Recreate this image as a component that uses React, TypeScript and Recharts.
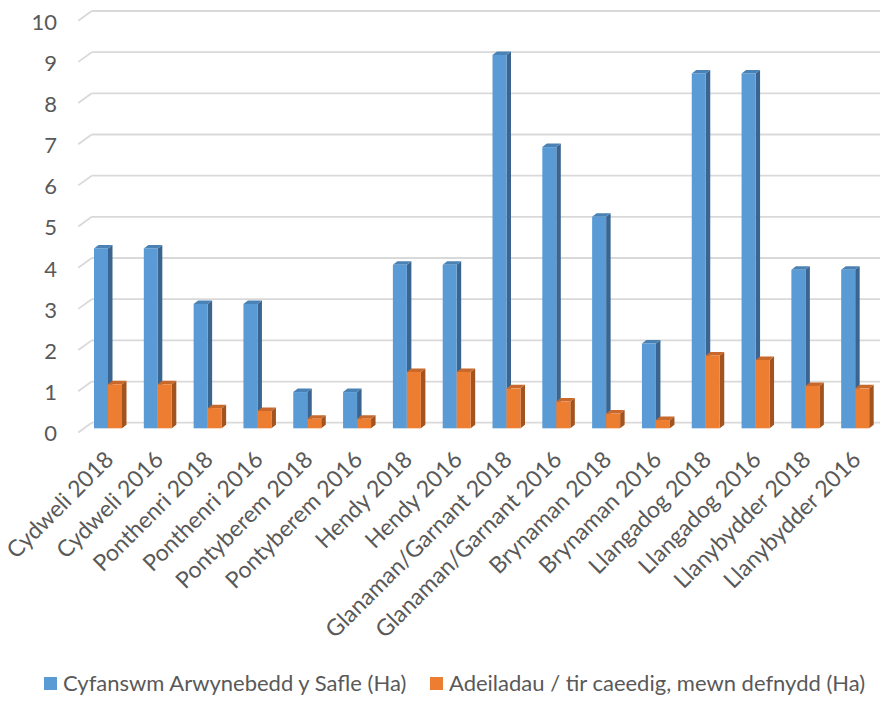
import React from "react";
import { BarChart, Bar, XAxis, YAxis, CartesianGrid, Legend } from "recharts";

const categories = [
  "Cydweli 2018", "Cydweli 2016", "Ponthenri 2018", "Ponthenri 2016",
  "Pontyberem 2018", "Pontyberem 2016", "Hendy 2018", "Hendy 2016",
  "Glanaman/Garnant 2018", "Glanaman/Garnant 2016", "Brynaman 2018", "Brynaman 2016",
  "Llangadog 2018", "Llangadog 2016", "Llanybydder 2018", "Llanybydder 2016",
];
const totalArea = [4.37, 4.37, 3.02, 3.02, 0.88, 0.88, 3.97, 3.97, 9.07, 6.83, 5.14, 2.06, 8.62, 8.62, 3.85, 3.85];
const builtArea = [1.07, 1.07, 0.49, 0.42, 0.23, 0.23, 1.37, 1.37, 0.97, 0.65, 0.36, 0.2, 1.77, 1.66, 1.03, 0.97];
const yTicks = [0, 1, 2, 3, 4, 5, 6, 7, 8, 9, 10];
const seriesNames = ["Cyfanswm Arwynebedd y Safle (Ha)", "Adeiladau / tir caeedig, mewn defnydd (Ha)"];

const data = categories.map((c, i) => ({ name: c, total: totalArea[i], built: builtArea[i] }));

const FONT = "Lato, 'Open Sans', sans-serif";
const TEXT = "#595959";
const BLUE = { front: "#5B9BD5", side: "#3A6590", top: "#4A82B5" };
const ORANGE = { front: "#ED7D31", side: "#A3531D", top: "#C8682A" };

const make3D = (c: { front: string; side: string; top: string }) => (props: any) => {
  const { x, y, width, height } = props;
  if (height == null || width == null) return null;
  const dx = 4.5;
  const dy = 3.5;
  return (
    <g>
      <polygon points={`${x + width},${y} ${x + width + dx},${y - dy} ${x + width + dx},${y + height - dy} ${x + width},${y + height}`} fill={c.side} />
      <polygon points={`${x},${y} ${x + dx},${y - dy} ${x + width + dx},${y - dy} ${x + width},${y}`} fill={c.top} />
      <rect x={x} y={y} width={width} height={height} fill={c.front} />
    </g>
  );
};

const gridLine = (props: any) => {
  const { y1, x2, key } = props;
  const backX = 91.7;
  const frontX = 78.3;
  return (
    <g key={key}>
      <line x1={frontX} y1={y1 + 4.1} x2={backX} y2={y1 - 5.6} stroke="#D9D9D9" strokeWidth={1.8} />
      <line x1={backX} y1={y1 - 5.6} x2={x2} y2={y1 - 5.6} stroke="#D9D9D9" strokeWidth={1.8} />
    </g>
  );
};

const YTick = (props: any) => {
  const { y, payload } = props;
  return (
    <text x={57} y={y + 4.5} textAnchor="end" dominantBaseline="central" fontFamily={FONT} fontSize={22} fill={TEXT}>
      {payload.value}
    </text>
  );
};

const XTick = (props: any) => {
  const { x, payload } = props;
  const px = x + 7;
  const py = 461;
  return (
    <text x={px} y={py} textAnchor="end" transform={`rotate(-45, ${px}, ${py})`} fontFamily={FONT} fontSize={23} fill={TEXT}>
      {payload.value}
    </text>
  );
};

const LegendContent = () => (
  <div style={{ height: 40, width: 881, position: "relative", fontFamily: FONT, fontSize: 22, color: TEXT }}>
    <div style={{ position: "absolute", left: 44, top: 15, width: 13, height: 13, background: BLUE.front }} />
    <div style={{ position: "absolute", left: 63, top: 6, whiteSpace: "nowrap", lineHeight: "30px" }}>{seriesNames[0]}</div>
    <div style={{ position: "absolute", left: 430, top: 15, width: 13, height: 13, background: ORANGE.front }} />
    <div style={{ position: "absolute", left: 449, top: 6, whiteSpace: "nowrap", lineHeight: "30px" }}>{seriesNames[1]}</div>
  </div>
);

export default function App() {
  return (
    <div style={{ position: "absolute", left: 0, top: 0, width: 881, height: 702, background: "#fff" }}>
      <BarChart
        width={881}
        height={702}
        data={data}
        margin={{ top: 16.6, right: 1, left: 0, bottom: 0 }}
        barGap={0}
        barSize={14}
      >
        <CartesianGrid vertical={false} horizontal={gridLine} />
        <YAxis
          width={83}
          domain={[0, 10]}
          ticks={yTicks}
          axisLine={false}
          tickLine={false}
          tick={<YTick />}
          interval={0}
        />
        <XAxis
          dataKey="name"
          height={233.7}
          axisLine={false}
          tickLine={false}
          interval={0}
          tick={<XTick />}
        />
        <Legend verticalAlign="bottom" content={<LegendContent />} wrapperStyle={{ left: 0, width: 881, height: 40 }} />
        <Bar dataKey="total" name={seriesNames[0]} fill={BLUE.front} shape={make3D(BLUE)} isAnimationActive={false} />
        <Bar dataKey="built" name={seriesNames[1]} fill={ORANGE.front} shape={make3D(ORANGE)} isAnimationActive={false} />
      </BarChart>
    </div>
  );
}
